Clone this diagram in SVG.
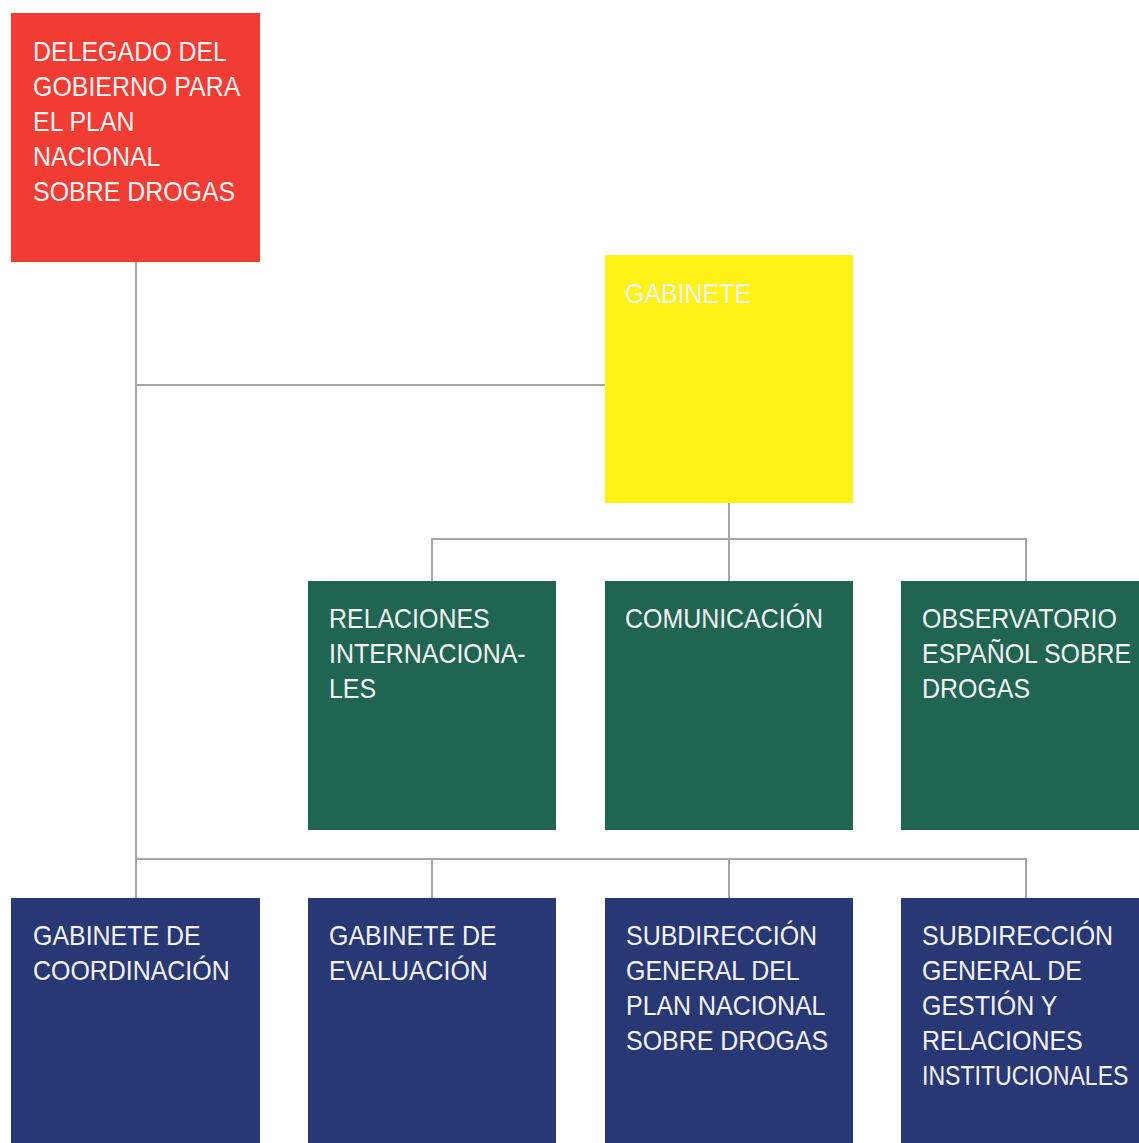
<svg xmlns="http://www.w3.org/2000/svg" width="1139" height="1143" viewBox="0 0 1139 1143">
<style>
.lbl{font-family:"Liberation Sans",Arial,Helvetica,sans-serif;font-size:28.5px;fill:#f6f3f6}
.red{fill:#f03c32}
.yel{fill:#fff217}
.grn{fill:#1f6551}
.blu{fill:#283874}
.conn line{stroke:#a6a6a6;stroke-width:2}
</style>
<rect width="1139" height="1143" fill="#ffffff"/>
<g class="conn" id="connectors">
<line x1="136" y1="262" x2="136" y2="898"/>
<line x1="135" y1="385" x2="605" y2="385"/>
<line x1="729" y1="503" x2="729" y2="581"/>
<line x1="431" y1="539" x2="1027" y2="539"/>
<line x1="432" y1="539" x2="432" y2="581"/>
<line x1="1026" y1="539" x2="1026" y2="581"/>
<line x1="135" y1="859" x2="1027" y2="859"/>
<line x1="432" y1="859" x2="432" y2="898"/>
<line x1="729" y1="859" x2="729" y2="898"/>
<line x1="1026" y1="859" x2="1026" y2="898"/>
</g>
<g id="delegado">
<rect class="red" x="11" y="13" width="249" height="249"/>
<g transform="translate(33,61) scale(0.875,1)"><text class="lbl"><tspan x="0" y="0">DELEGADO DEL</tspan><tspan x="0" y="35">GOBIERNO PARA</tspan><tspan x="0" y="70">EL PLAN</tspan><tspan x="0" y="105">NACIONAL</tspan><tspan x="0" y="140">SOBRE DROGAS</tspan></text></g>
</g>
<g id="gabinete">
<rect class="yel" x="605" y="255" width="248" height="248"/>
<g transform="translate(625,303) scale(0.875,1)"><text class="lbl"><tspan x="0" y="0">GABINETE</tspan></text></g>
</g>
<g id="relaciones">
<rect class="grn" x="308" y="581" width="248" height="249"/>
<g transform="translate(329,628) scale(0.875,1)"><text class="lbl"><tspan x="0" y="0">RELACIONES</tspan><tspan x="0" y="35">INTERNACIONA-</tspan><tspan x="0" y="70">LES</tspan></text></g>
</g>
<g id="comunicacion">
<rect class="grn" x="605" y="581" width="248" height="249"/>
<g transform="translate(625,628) scale(0.875,1)"><text class="lbl"><tspan x="0" y="0">COMUNICACIÓN</tspan></text></g>
</g>
<g id="observatorio">
<rect class="grn" x="901" y="581" width="238" height="249"/>
<g transform="translate(922,628) scale(0.875,1)"><text class="lbl"><tspan x="0" y="0">OBSERVATORIO</tspan><tspan x="0" y="35">ESPAÑOL SOBRE</tspan><tspan x="0" y="70">DROGAS</tspan></text></g>
</g>
<g id="coordinacion">
<rect class="blu" x="11" y="898" width="249" height="245"/>
<g transform="translate(33,945) scale(0.875,1)"><text class="lbl"><tspan x="0" y="0">GABINETE DE</tspan><tspan x="0" y="35">COORDINACIÓN</tspan></text></g>
</g>
<g id="evaluacion">
<rect class="blu" x="308" y="898" width="248" height="245"/>
<g transform="translate(329,945) scale(0.875,1)"><text class="lbl"><tspan x="0" y="0">GABINETE DE</tspan><tspan x="0" y="35">EVALUACIÓN</tspan></text></g>
</g>
<g id="subdireccion-pnsd">
<rect class="blu" x="605" y="898" width="248" height="245"/>
<g transform="translate(626,945) scale(0.875,1)"><text class="lbl"><tspan x="0" y="0">SUBDIRECCIÓN</tspan><tspan x="0" y="35">GENERAL DEL</tspan><tspan x="0" y="70">PLAN NACIONAL</tspan><tspan x="0" y="105">SOBRE DROGAS</tspan></text></g>
</g>
<g id="subdireccion-gestion">
<rect class="blu" x="901" y="898" width="238" height="245"/>
<g transform="translate(922,945) scale(0.875,1)"><text class="lbl"><tspan x="0" y="0">SUBDIRECCIÓN</tspan><tspan x="0" y="35">GENERAL DE</tspan><tspan x="0" y="70">GESTIÓN Y</tspan><tspan x="0" y="105">RELACIONES</tspan></text></g>
<g transform="translate(922,1085) scale(0.81,1)"><text class="lbl" x="0" y="0">INSTITUCIONALES</text></g>
</g>
</svg>
